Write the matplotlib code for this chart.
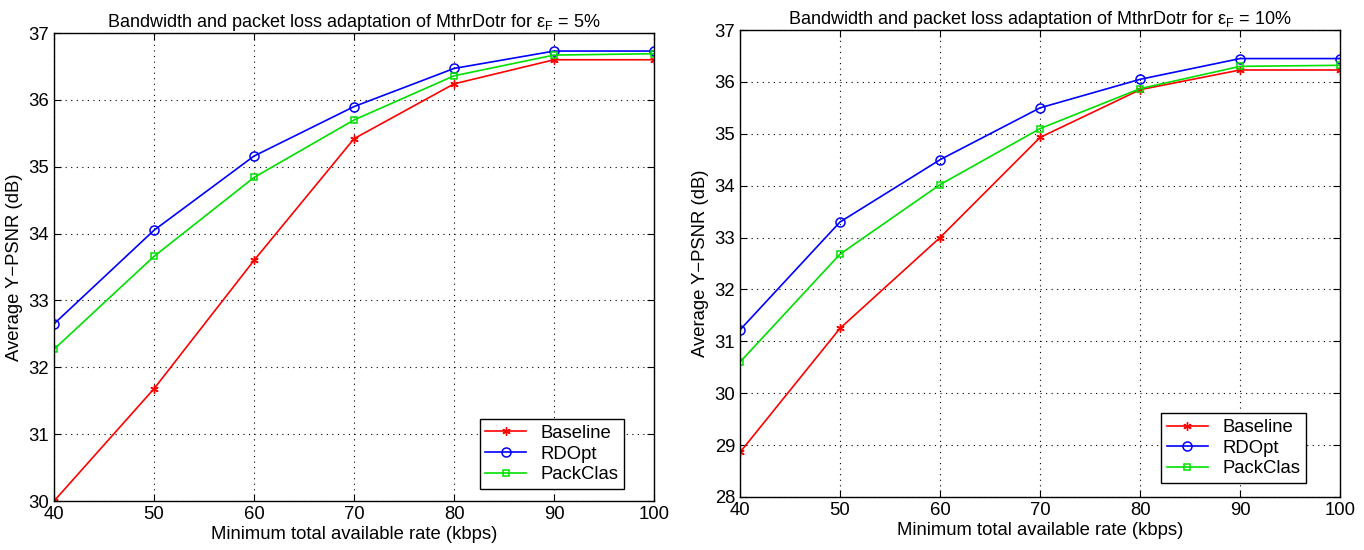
import numpy as np
import matplotlib.pyplot as plt

plt.rcParams['font.family'] = ['Liberation Sans', 'DejaVu Sans']
plt.rcParams['mathtext.fontset'] = 'custom'
plt.rcParams['mathtext.rm'] = 'Liberation Sans'
plt.rcParams['mathtext.it'] = 'Liberation Sans:italic'

rate = [40, 50, 60, 70, 80, 90, 100]

# eps_F = 5%
base_5 = [30.0, 31.68, 33.6, 35.42, 36.24, 36.6, 36.6]
rdopt_5 = [32.65, 34.05, 35.16, 35.9, 36.47, 36.73, 36.73]
pack_5 = [32.27, 33.66, 34.84, 35.7, 36.36, 36.67, 36.69]

# eps_F = 10%
base_10 = [28.86, 31.25, 33.0, 34.93, 35.85, 36.23, 36.23]
rdopt_10 = [31.22, 33.3, 34.5, 35.5, 36.05, 36.45, 36.45]
pack_10 = [30.6, 32.68, 34.02, 35.1, 35.87, 36.3, 36.32]

fig = plt.figure(figsize=(13.64, 5.5), dpi=100)
ax1 = fig.add_axes([0.0396, 0.089, 0.44, 0.851])
ax2 = fig.add_axes([0.5425, 0.0964, 0.44, 0.849])

def draw(ax, base, rdopt, pack, eps, ylim, anchor):
    ax.plot(rate, base, '-', color='red', marker=(6, 2, 0), ms=6, lw=1.2, label='Baseline')
    ax.plot(rate, rdopt, '-', color='blue', marker='o', mfc='none', ms=6.5, mew=1.1, lw=1.2, label='RDOpt')
    ax.plot(rate, pack, '-', color='#00e000', marker='s', mfc='none', ms=4.8, mew=1.1, lw=1.2, label='PackClas')
    ax.set_xlim(40, 100)
    ax.set_ylim(*ylim)
    ax.set_xticks(rate)
    ax.set_yticks(np.arange(ylim[0], ylim[1] + 1))
    ax.grid(True, color='black', linestyle=(0, (1, 4)), linewidth=0.8)
    ax.tick_params(direction='in', labelsize=13.3, length=5, top=True, right=True)
    ax.set_xlabel('Minimum total available rate (kbps)', fontsize=13.3, labelpad=2)
    ax.set_ylabel('Average Y\u2212PSNR (dB)', fontsize=13.3, labelpad=4)
    ax.set_title('Bandwidth and packet loss adaptation of MthrDotr for \u03b5$_{\\rm F}$ = ' + eps,
                 fontsize=13, pad=4)
    leg = ax.legend(loc='lower right', bbox_to_anchor=anchor, fontsize=13.3, fancybox=False,
                    framealpha=1, edgecolor='black', borderaxespad=0, handlelength=2.2,
                    borderpad=0.3, labelspacing=0.2)
    leg.get_frame().set_linewidth(1.0)
    for s in ax.spines.values():
        s.set_linewidth(1.0)

draw(ax1, base_5, rdopt_5, pack_5, '5%', (30, 37), (0.95, 0.026))
draw(ax2, base_10, rdopt_10, pack_10, '10%', (28, 37), (0.943, 0.03))

fig.savefig('out.png', dpi=100)
